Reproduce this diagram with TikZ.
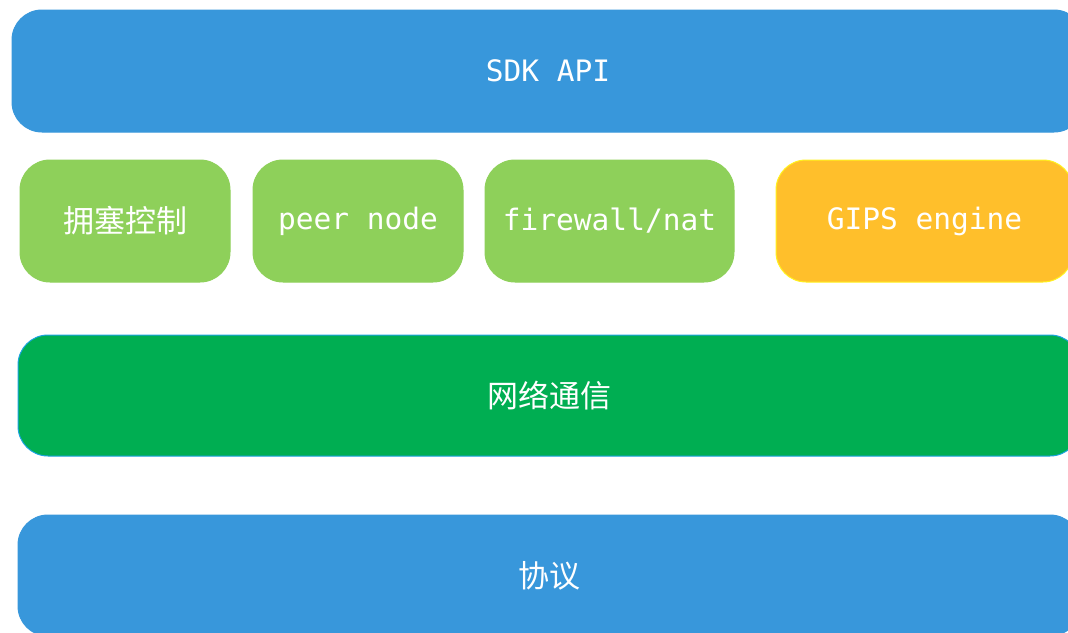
\documentclass[tikz,border=0pt]{standalone}
\usepackage{fontspec}
\setmonofont{DejaVu Sans Mono}
\newfontfamily\cjk{Noto Sans CJK SC}
\definecolor{layerblue}{HTML}{3897DB}
\definecolor{partgreen}{HTML}{8ED05A}
\definecolor{netgreen}{HTML}{00AE52}
\definecolor{engineorange}{HTML}{FFBF2B}
\definecolor{edgeblue}{HTML}{1AA3E0}
\definecolor{edgeyellow}{HTML}{FFF21E}
\newcommand{\monotext}[1]{\ttfamily\fontsize{29.5}{32}\selectfont #1}
\newcommand{\hantext}[1]{\cjk\fontsize{31}{34}\selectfont #1}
\begin{document}
\begin{tikzpicture}[x=1pt,y=-1pt]

      \useasboundingbox (0,0) rectangle (1068,632);
      \clip (0,0) rectangle (1068,632);

      \begin{scope}[every node/.style={rounded corners=30pt, inner sep=0pt, text=white, line width=1pt}]
        \node[fill=layerblue, draw=layerblue, minimum width=1072pt, minimum height=122pt]
          (api) at (548,71) {\monotext{SDK API}};

        \node[fill=partgreen, draw=partgreen, minimum width=210pt, minimum height=122pt]
          (congest) at (125,221) {\hantext{拥塞控制}};
        \node[fill=partgreen, draw=partgreen, minimum width=210pt, minimum height=122pt]
          (peer) at (358,221) {\monotext{peer node}};
        \node[fill=partgreen, draw=partgreen, minimum width=249pt, minimum height=122pt]
          (firewall) at (609.5,221) {\monotext{firewall/nat}};
        \node[fill=engineorange, draw=edgeyellow, minimum width=297pt, minimum height=122pt]
          (gips) at (924.5,221) {\monotext{GIPS engine}};

        \node[fill=netgreen, draw=edgeblue, minimum width=1062pt, minimum height=121pt]
          (net) at (549,395.5) {\hantext{网络通信}};
        \node[fill=layerblue, draw=layerblue, minimum width=1062pt, minimum height=121pt]
          (proto) at (549,575.5) {\hantext{协议}};
      \end{scope}

    \end{tikzpicture}
\end{document}
